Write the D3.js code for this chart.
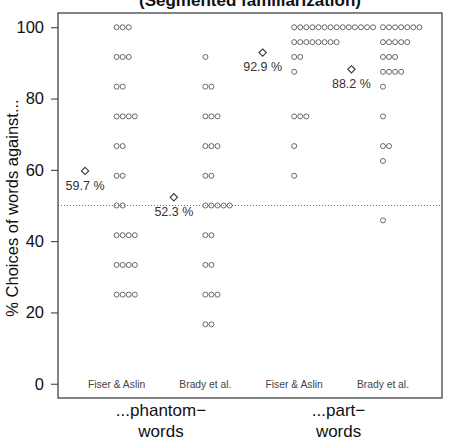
<!DOCTYPE html>
<html>
<head>
<meta charset="utf-8">
<script src="https://cdn.jsdelivr.net/npm/d3@7"></script>
<style>
  html, body { margin: 0; padding: 0; background: #fff; }
  svg { display: block; font-family: "Liberation Sans", Arial, sans-serif; }
</style>
</head>
<body>
<svg id="chart" width="453" height="444"></svg>
<script>
// ---- data ----
const studies = ["Fiser & Aslin", "Brady et al.", "Fiser & Aslin", "Brady et al."];
const groupLabels = [["...phantom\u2212", "words"], ["...part\u2212", "words"]];
const yTicks = [0, 20, 40, 60, 80, 100];
const chance = 50;
const title = "(Segmented familiarization)";
const yTitle = "% Choices of words against...";

// per-participant scores: distinct values and how many participants had each
const fiserPhantomValues = [100, 91.67, 83.33, 75, 66.67, 58.33, 50, 41.67, 33.33, 25];
const fiserPhantomCounts = [3, 3, 2, 4, 2, 2, 2, 4, 4, 4];
const bradyPhantomValues = [91.67, 83.33, 75, 66.67, 58.33, 50, 41.67, 33.33, 25, 16.67];
const bradyPhantomCounts = [1, 2, 3, 3, 2, 5, 2, 2, 3, 2];
const fiserPartValues = [100, 95.83, 91.67, 87.5, 75, 66.67, 58.33];
const fiserPartCounts = [14, 8, 2, 1, 3, 1, 1];
const bradyPartValues = [100, 95.83, 91.67, 87.5, 83.33, 75, 66.67, 62.5, 45.83];
const bradyPartCounts = [7, 5, 3, 4, 1, 1, 2, 1, 1];
const means = [59.7, 52.3, 92.9, 88.2];

const columns = [
  { values: fiserPhantomValues, counts: fiserPhantomCounts },
  { values: bradyPhantomValues, counts: bradyPhantomCounts },
  { values: fiserPartValues, counts: fiserPartCounts },
  { values: bradyPartValues, counts: bradyPartCounts }
];

// ---- layout ----
const box = { left: 58, right: 442, top: 13, bottom: 398 };
const svg = d3.select("#chart");

const x = d3.scaleLinear().domain([0.34, 4.665]).range([box.left, box.right]);
const y = d3.scaleLinear().domain([-4, 104]).range([box.bottom, box.top]);
const dotStep = 6.07;
const meanOffset = 0.355;

// title
svg.append("text")
  .attr("x", (box.left + box.right) / 2).attr("y", 6)
  .attr("text-anchor", "middle")
  .attr("font-weight", "bold").attr("font-size", 17)
  .attr("fill", "#111")
  .text(title);

// chance line
svg.append("line")
  .attr("x1", box.left).attr("x2", box.right)
  .attr("y1", y(chance)).attr("y2", y(chance))
  .attr("stroke", "#555").attr("stroke-width", 0.8)
  .attr("stroke-dasharray", "1,2");

// dots
columns.forEach((col, ci) => {
  const pts = [];
  col.values.forEach((v, vi) => {
    for (let k = 0; k < col.counts[vi]; k++) pts.push({ v, k });
  });
  svg.append("g").selectAll("circle").data(pts).join("circle")
    .attr("cx", d => x(ci + 1) + d.k * dotStep)
    .attr("cy", d => y(d.v))
    .attr("r", 2.5)
    .attr("fill", "none")
    .attr("stroke", "#444")
    .attr("stroke-width", 0.8);
});

// means (diamonds + labels)
const mg = svg.append("g");
means.forEach((m, i) => {
  const cx = x(i + 1 - meanOffset), cy = y(m);
  mg.append("path")
    .attr("d", d3.symbol(d3.symbolDiamond2, 34)())
    .attr("transform", `translate(${cx},${cy}) rotate(0)`)
    .attr("fill", "none").attr("stroke", "#333").attr("stroke-width", 1.1);
  mg.append("text")
    .attr("x", cx).attr("y", cy + 18.6)
    .attr("text-anchor", "middle")
    .attr("font-size", 12.5).attr("fill", "#333")
    .text(m.toFixed(1) + " %");
});

// study labels inside plot
svg.append("g").selectAll("text").data(studies).join("text")
  .attr("x", (d, i) => x(i + 1))
  .attr("y", 388)
  .attr("text-anchor", "middle")
  .attr("font-size", 10.3).attr("fill", "#444")
  .text(d => d);

// y axis
const yAxis = d3.axisLeft(y).tickValues(yTicks).tickSize(7).tickPadding(7);
const ya = svg.append("g").attr("transform", `translate(${box.left},0)`).call(yAxis);
ya.select(".domain").remove();
ya.selectAll("line").attr("stroke", "#333");
ya.selectAll("text").attr("font-size", 16.5).attr("fill", "#111")
  .attr("font-family", "Liberation Sans, Arial, sans-serif");

// box
svg.append("rect")
  .attr("x", box.left).attr("y", box.top)
  .attr("width", box.right - box.left).attr("height", box.bottom - box.top)
  .attr("fill", "none").attr("stroke", "#333").attr("stroke-width", 1.2);

// group labels
groupLabels.forEach((lines, gi) => {
  const cx = (x(gi * 2 + 1) + x(gi * 2 + 2)) / 2;
  lines.forEach((t, li) => {
    svg.append("text")
      .attr("x", cx).attr("y", 416 + li * 21)
      .attr("text-anchor", "middle")
      .attr("font-size", 17).attr("fill", "#111")
      .text(t);
  });
});

// y title
svg.append("text")
  .attr("transform", `translate(18,208) rotate(-90)`)
  .attr("text-anchor", "middle")
  .attr("font-size", 16.5).attr("fill", "#111")
  .text(yTitle);
</script>
</body>
</html>
